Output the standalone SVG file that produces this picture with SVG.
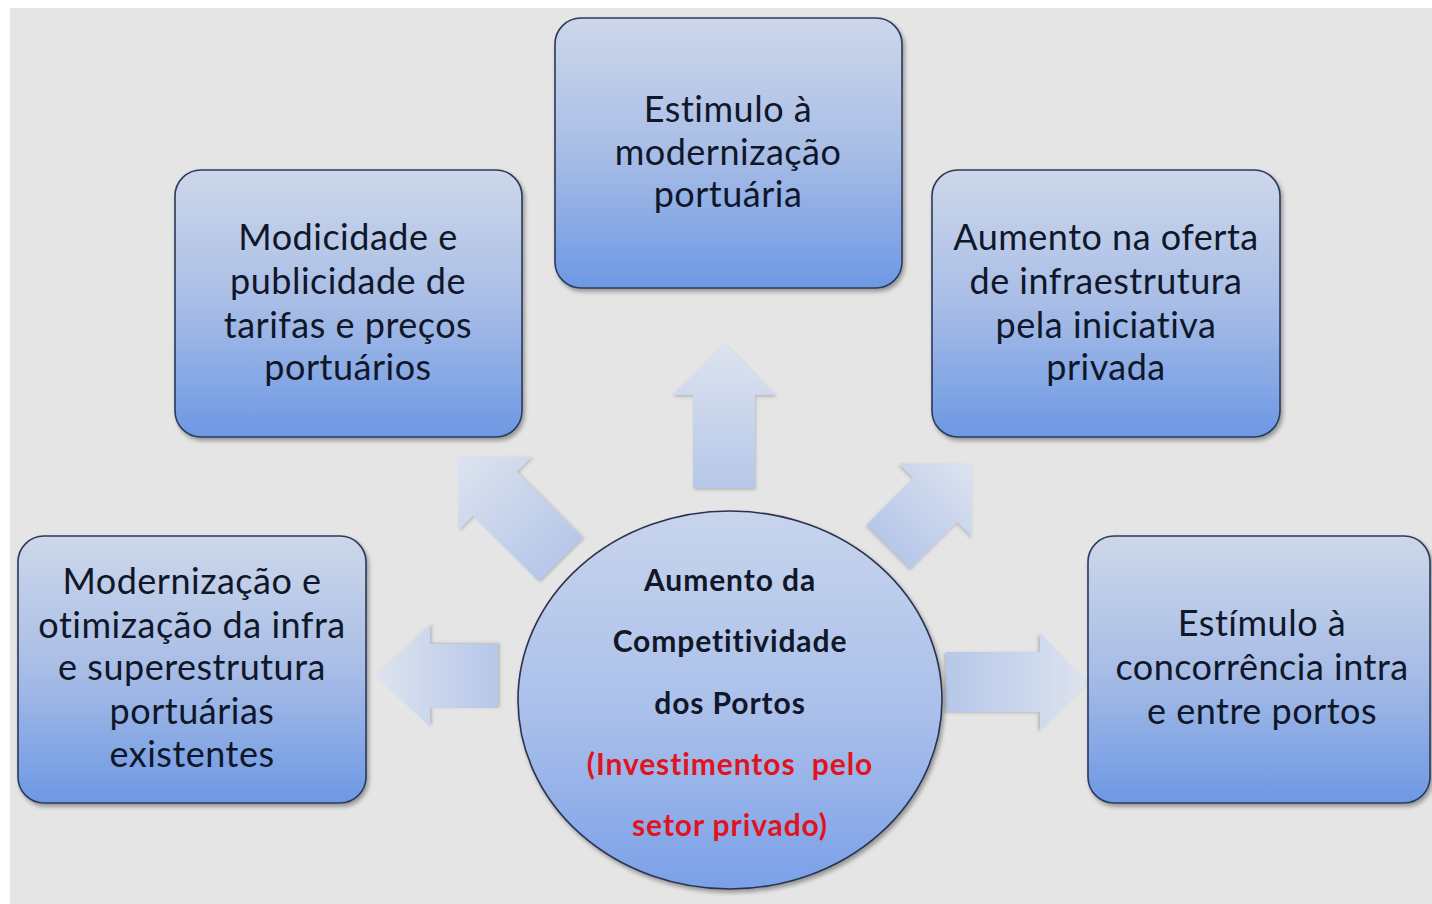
<svg xmlns="http://www.w3.org/2000/svg" width="1432" height="904" viewBox="0 0 1432 904">
<defs>
<linearGradient id="boxg" x1="0" y1="0" x2="0" y2="1">
<stop offset="0" stop-color="#cdd7ea"/>
<stop offset="0.5" stop-color="#a8bde6"/>
<stop offset="1" stop-color="#6d98e4"/>
</linearGradient>
<linearGradient id="circg" x1="0" y1="0" x2="0" y2="1">
<stop offset="0" stop-color="#c8d4ec"/>
<stop offset="0.55" stop-color="#a9bfea"/>
<stop offset="1" stop-color="#7aa0e8"/>
</linearGradient>
<linearGradient id="arrg" x1="0" y1="0" x2="0" y2="1">
<stop offset="0" stop-color="#dde3ef"/>
<stop offset="1" stop-color="#b6c7e9"/>
</linearGradient>
<filter id="sh" x="-10%" y="-10%" width="125%" height="125%">
<feDropShadow dx="2" dy="3" stdDeviation="2" flood-color="#000" flood-opacity="0.35"/>
</filter>
<filter id="ash" x="-10%" y="-10%" width="125%" height="125%">
<feDropShadow dx="1" dy="2" stdDeviation="1.5" flood-color="#556" flood-opacity="0.3"/>
</filter>
<path id="arr" d="M0,0 L52,52 L31,52 L31,145 L-31,145 L-31,52 L-52,52 Z"/>
</defs>
<style>
.box{fill:url(#boxg);stroke:#2b3a5c;stroke-width:1.6;filter:url(#sh)}
.t{font-family:Lato,"Open Sans","Liberation Sans",sans-serif;font-size:36px;letter-spacing:0.5px;fill:#0f1729;text-anchor:middle}
.c{font-family:Lato,"Open Sans","Liberation Sans",sans-serif;font-size:30px;letter-spacing:0.9px;font-weight:bold;fill:#0f1729;text-anchor:middle}
.r{fill:#e0141e}
.a{fill:url(#arrg);filter:url(#ash)}
</style>
<rect x="0" y="0" width="1432" height="904" fill="#ffffff"/>
<rect x="10" y="8" width="1422" height="896" fill="#e5e5e5"/>

<g id="connectors">
<use href="#arr" class="a" transform="translate(724,343)"/>
<use href="#arr" class="a" transform="translate(458,457) rotate(-45)"/>
<g transform="translate(972,463) rotate(45)"><path class="a" d="M0,0 L52,52 L31,52 L31,118 L-31,118 L-31,52 L-52,52 Z"/></g>
<g transform="translate(376,676) rotate(-90)"><path class="a" d="M0,0 L51,54 L32,54 L32,122 L-32,122 L-32,54 L-51,54 Z"/></g>
<g transform="translate(1088,682) rotate(90)"><path class="a" d="M0,0 L49,48 L30,48 L30,142 L-30,142 L-30,48 L-49,48 Z"/></g>
</g>

<g id="n-top">
<rect class="box" x="555" y="18" width="347" height="270" rx="26"/>
<text class="t" x="728" y="122">Estimulo à</text>
<text class="t" x="728" y="165">modernização</text>
<text class="t" x="728" y="207">portuária</text>
</g>

<g id="n-upleft">
<rect class="box" x="175" y="170" width="347" height="267" rx="26"/>
<text class="t" x="348" y="250">Modicidade e</text>
<text class="t" x="348" y="294">publicidade de</text>
<text class="t" x="348" y="338">tarifas e preços</text>
<text class="t" x="348" y="380">portuários</text>
</g>

<g id="n-upright">
<rect class="box" x="932" y="170" width="348" height="267" rx="26"/>
<text class="t" x="1106" y="250">Aumento na oferta</text>
<text class="t" x="1106" y="294">de infraestrutura</text>
<text class="t" x="1106" y="338">pela iniciativa</text>
<text class="t" x="1106" y="380">privada</text>
</g>

<g id="n-left">
<rect class="box" x="18" y="536" width="348" height="267" rx="26"/>
<text class="t" x="192" y="594">Modernização e</text>
<text class="t" x="192" y="638">otimização da infra</text>
<text class="t" x="192" y="680">e superestrutura</text>
<text class="t" x="192" y="724">portuárias</text>
<text class="t" x="192" y="767">existentes</text>
</g>

<g id="n-right">
<rect class="box" x="1088" y="536" width="342" height="267" rx="26"/>
<text class="t" x="1262" y="636">Estímulo à</text>
<text class="t" x="1262" y="680">concorrência intra</text>
<text class="t" x="1262" y="724">e entre portos</text>
</g>

<g id="n-center">
<ellipse cx="730" cy="700" rx="212" ry="189" fill="url(#circg)" stroke="#2b3350" stroke-width="1.6" filter="url(#sh)"/>
<text class="c" x="730" y="591">Aumento da</text>
<text class="c" x="730" y="652">Competitividade</text>
<text class="c" x="730" y="714">dos Portos</text>
<text class="c r" x="730" y="775" xml:space="preserve">(Investimentos  pelo</text>
<text class="c r" x="730" y="836">setor privado)</text>
</g>
</svg>
